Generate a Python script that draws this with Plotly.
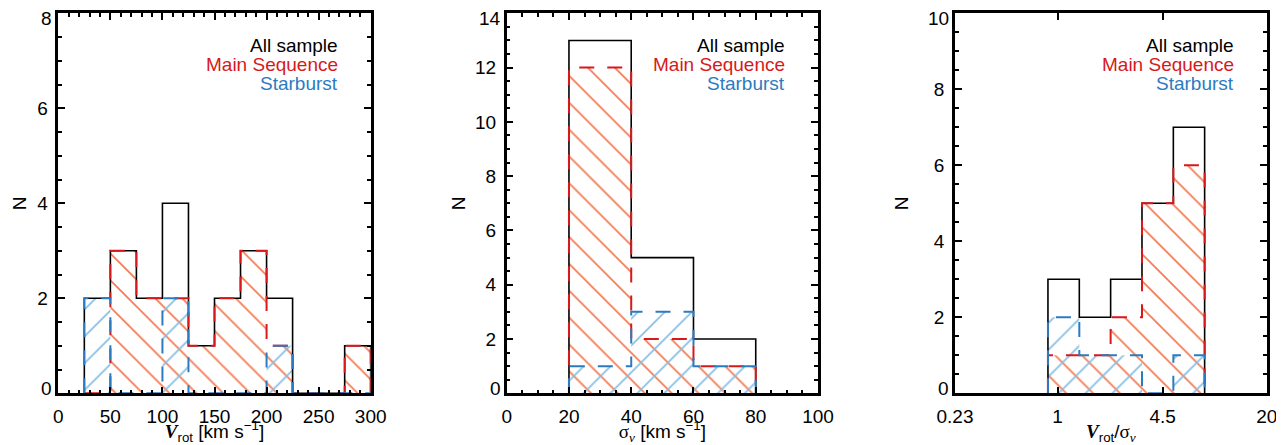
import plotly.graph_objects as go

# ---------------- data ----------------
vrot_edges = [25, 50, 75, 100, 125, 150, 175, 200, 225, 250, 275, 300]
vrot_all = [2, 3, 2, 4, 1, 2, 3, 2, 0, 0, 1]
vrot_ms = [0, 3, 2, 2, 1, 2, 3, 1, 0, 0, 1]
vrot_sb = [2, 0, 0, 2, 0, 0, 0, 1, 0, 0, 0]

sigma_edges = [20, 40, 60, 80]
sigma_all = [13, 5, 2]
sigma_ms = [12, 2, 1]
sigma_sb = [1, 3, 1]

ratio_edges = [0.871, 1.365, 2.138, 3.35, 5.25, 8.22]
ratio_all = [3, 2, 3, 5, 7]
ratio_ms = [1, 1, 2, 5, 6]
ratio_sb = [2, 1, 1, 0, 1]

ratio_ticks = [0.23, 1, 4.5, 20]
ratio_ticktext = ["0.23", "1", "4.5", "20"]

y_max = [8, 14, 10]
y_ticks = [[0, 2, 4, 6, 8], [0, 2, 4, 6, 8, 10, 12, 14], [0, 2, 4, 6, 8, 10]]

legend_labels = ["All sample", "Main Sequence", "Starburst"]

# ---------------- style ----------------
BLACK = "#000000"
RED_LINE = "#D7191C"
BLUE_LINE = "#2C7BC0"
RED_HATCH = "#F47A52"
BLUE_HATCH = "#86BEE4"
FONT = "Liberation Sans"
SERIF = "Liberation Serif"

fig = go.Figure()


def step_xy(edges, counts):
    xs = [edges[0]]
    ys = [0]
    for i, c in enumerate(counts):
        xs += [edges[i], edges[i + 1]]
        ys += [c, c]
    xs.append(edges[-1])
    ys.append(0)
    return xs, ys


def add_panel(idx, edges, c_all, c_ms, c_sb):
    xa = "x" if idx == 1 else f"x{idx}"
    ya = "y" if idx == 1 else f"y{idx}"
    # hatched fills
    for counts, shape, col in [(c_ms, "\\", RED_HATCH), (c_sb, "/", BLUE_HATCH)]:
        xs, ys = step_xy(edges, counts)
        fig.add_trace(go.Scatter(
            x=xs, y=ys, xaxis=xa, yaxis=ya, mode="lines", fill="toself",
            fillcolor=col,
            fillpattern=dict(shape=shape, fgcolor=col, fgopacity=1,
                             bgcolor="rgba(0,0,0,0)", size=19, solidity=0.09),
            line=dict(width=0), hoverinfo="skip", showlegend=False))
    # outlines
    for counts, col, dash, w in [(c_all, BLACK, "solid", 1.6),
                                 (c_ms, RED_LINE, "15px,13px", 2),
                                 (c_sb, BLUE_LINE, "15px,13px", 2)]:
        xs, ys = step_xy(edges, counts)
        fig.add_trace(go.Scatter(
            x=xs, y=ys, xaxis=xa, yaxis=ya, mode="lines",
            line=dict(color=col, width=w, dash=dash, shape="linear"),
            hoverinfo="skip", showlegend=False))
    # text labels
    for j, (txt, col) in enumerate(zip(legend_labels, [BLACK, RED_LINE, BLUE_LINE])):
        fig.add_annotation(
            text=txt, xref=f"{xa} domain", yref=f"{ya} domain",
            x=1, y=[0.914, 0.866, 0.816][j], xanchor="right", yanchor="middle",
            xshift=-31, showarrow=False,
            font=dict(family=FONT, size=19, color=col))
    # end tick labels of the y axis, nudged inside the axis span (IDL style)
    ticks = y_ticks[idx - 1]
    for val, ydom, ysh in [(ticks[0], 0, 5), (ticks[-1], 1, -5)]:
        fig.add_annotation(
            text=str(val), xref=f"{xa} domain", yref=f"{ya} domain",
            x=0, y=ydom, xanchor="right", yanchor="middle",
            xshift=-4, yshift=ysh, showarrow=False,
            font=dict(family=FONT, size=19, color=BLACK))


add_panel(1, vrot_edges, vrot_all, vrot_ms, vrot_sb)
add_panel(2, sigma_edges, sigma_all, sigma_ms, sigma_sb)
add_panel(3, ratio_edges, ratio_all, ratio_ms, ratio_sb)

# page has an 8px body margin: figure is placed at (8, 8)
OFF = 8
W, H = 1284 - OFF, 445 - OFF
ytop, ybot = 1 - (13.3 - OFF) / H, 1 - (393.3 - OFF) / H
doms = [((58.3 - OFF) / W, (370.7 - OFF) / W),
        ((506.7 - OFF) / W, (818.0 - OFF) / W),
        ((955.0 - OFF) / W, (1266.7 - OFF) / W)]

axis_common = dict(
    showline=True, linecolor=BLACK, linewidth=2.5, mirror="allticks",
    ticks="inside", ticklen=7, tickwidth=2, tickcolor=BLACK,
    showgrid=False, zeroline=False, automargin=False,
    tickfont=dict(family=FONT, size=19, color=BLACK),
)

xtitles = [
    f"<span style=\"font-family:'{SERIF}'\"><b><i>V</i></b></span><sub>rot</sub> [km s<sup>−1</sup>]",
    f"<span style=\"font-family:'{SERIF}'\">σ<sub><i>v</i></sub></span> [km s<sup>−1</sup>]",
    f"<span style=\"font-family:'{SERIF}'\"><b><i>V</i></b></span><sub>rot</sub>/<span style=\"font-family:'{SERIF}'\">σ<sub><i>v</i></sub></span>",
]

xcfg = [
    dict(range=[0, 300], dtick=50, tick0=0,
         minor=dict(dtick=10, ticks="inside", ticklen=4, tickwidth=2, tickcolor=BLACK, showgrid=False)),
    dict(range=[0, 100], dtick=20, tick0=0,
         minor=dict(dtick=5, ticks="inside", ticklen=4, tickwidth=2, tickcolor=BLACK, showgrid=False)),
    dict(type="log", range=[-0.6383, 1.30103], tickmode="array",
         tickvals=ratio_ticks, ticktext=ratio_ticktext),
]
ytitle_standoff = [6, 5, 21]

layout = dict(
    width=W, height=H, paper_bgcolor="white", plot_bgcolor="white",
    margin=dict(l=0, r=0, t=0, b=0), showlegend=False,
    font=dict(family=FONT, size=19, color=BLACK),
)
for i in range(3):
    xk = "xaxis" if i == 0 else f"xaxis{i + 1}"
    yk = "yaxis" if i == 0 else f"yaxis{i + 1}"
    ya = "y" if i == 0 else f"y{i + 1}"
    xa = "x" if i == 0 else f"x{i + 1}"
    xd = dict(axis_common)
    xd.update(xcfg[i])
    xd.update(domain=list(doms[i]), anchor=ya,
              title=dict(text=xtitles[i], font=dict(family=FONT, size=19), standoff=6),
              ticklabelstandoff=4)
    tv = y_ticks[i]
    tt = [""] + [str(v) for v in tv[1:-1]] + [""]
    yd = dict(axis_common)
    yd.update(range=[0, y_max[i]], tickmode="array", tickvals=tv, ticktext=tt,
              domain=[ybot, ytop], anchor=xa,
              minor=dict(dtick=0.5, tick0=0, ticks="inside", ticklen=4, tickwidth=2,
                         tickcolor=BLACK, showgrid=False),
              title=dict(text="N", font=dict(family=FONT, size=19), standoff=ytitle_standoff[i]),
              ticklabelstandoff=4)
    layout[xk] = xd
    layout[yk] = yd

fig.update_layout(**layout)
fig.write_html("out.html")
